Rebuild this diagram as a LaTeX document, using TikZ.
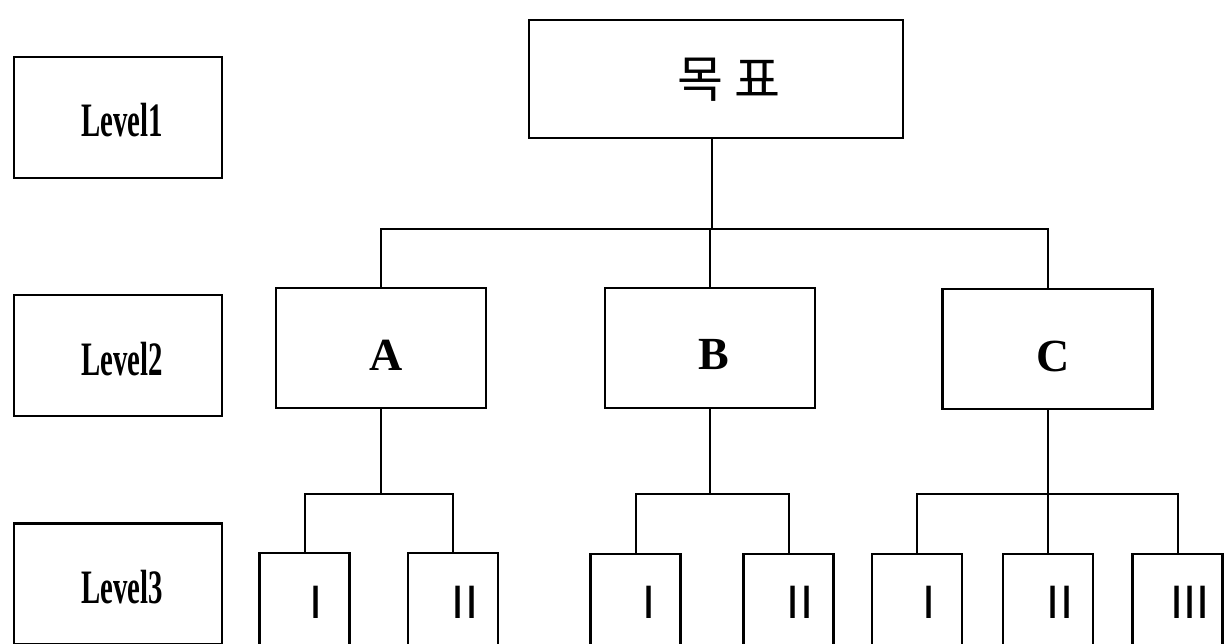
\documentclass[tikz,border=0pt]{standalone}
\usepackage{fontspec}
\setmainfont{Liberation Serif}
\newfontfamily\krfont{Noto Sans CJK KR}
\newfontfamily\barfont{Liberation Sans}
\begin{document}
\begin{tikzpicture}[x=1pt,y=-1pt,
  box/.style={draw,line width=2.4pt,inner sep=0pt,rectangle},
  lvbox/.style={box,minimum width=208pt,minimum height=121pt},
  midbox/.style={box,minimum width=210pt,minimum height=120pt},
  midtext/.style={font=\fontsize{46}{50}\selectfont\bfseries},
  leaf/.style={box,minimum width=90pt,minimum height=100pt},
  lvtext/.style={font=\fontsize{48}{52}\selectfont\bfseries},
  bartext/.style={font=\barfont\fontsize{47}{50}\selectfont},
  conn/.style={line width=2pt}]
\clip (0,0) rectangle (1224,644);
\fill[white] (0,0) rectangle (1224,644);
% level labels
\node[lvbox] (l1) at (118,117.5) {};
\node[lvtext] (l1t) at (122,120) {\scalebox{0.6}[1]{Level1}};
\node[lvbox] (l2) at (118,355.5) {};
\node[lvtext] (l2t) at (122,359) {\scalebox{0.6}[1]{Level2}};
\node[lvbox] (l3) at (118,584) {};
\node[lvtext] (l3t) at (122,587) {\scalebox{0.6}[1]{Level3}};
% goal
\node[box,minimum width=374pt,minimum height=118pt] (goal) at (716,79) {};
\node[font=\krfont\fontsize{50}{54}\selectfont] (goalt) at (729,80) {목 표};
% level 2
\node[midbox] (A) at (381,348) {};
\node[midbox] (B) at (710,348) {};
\node[midbox] (C) at (1047.5,349) {};
\node[midtext] (At) at (386,355) {A};
\node[midtext] (Bt) at (714,355) {B};
\node[midtext] (Ct) at (1053,356) {C};
% level 3
\node[leaf] (a1) at (304.5,603) {};
\node[leaf] (a2) at (453,603) {};
\node[leaf] (b1) at (635.5,604) {};
\node[leaf] (b2) at (788.5,604) {};
\node[leaf] (c1) at (917,604) {};
\node[leaf] (c2) at (1048,604) {};
\node[leaf] (c3) at (1177.5,604) {};
\node[bartext] (a1t) at (316,602) {I};
\node[bartext] (a2t) at (465,602) {II};
\node[bartext] (b1t) at (649,602) {I};
\node[bartext] (b2t) at (800,602) {II};
\node[bartext] (c1t) at (929,602) {I};
\node[bartext] (c2t) at (1060,602) {II};
\node[bartext] (c3t) at (1190,602) {III};
% connectors
\coordinate (bus1) at (712,229);
\coordinate (busA) at (386,494);
\coordinate (busB) at (712,494);
\coordinate (busC) at (1047,494);
\draw[conn] (bus1 |- goal.south) -- (bus1);
\draw[conn] (A.north) |- (bus1) -| (C.north);
\draw[conn] (B.north) -- (B.north |- bus1);
\draw[conn] (A.south) -- (A.south |- busA);
\draw[conn] (a1.north) |- (busA) -| (a2.north);
\draw[conn] (B.south) -- (B.south |- busB);
\draw[conn] (b1.north) |- (busB) -| (b2.north);
\draw[conn] (C.south) -- (C.south |- busC);
\draw[conn] (c1.north) |- (busC) -| (c3.north);
\draw[conn] (c2.north) -- (c2.north |- busC);
\end{tikzpicture}
\end{document}
